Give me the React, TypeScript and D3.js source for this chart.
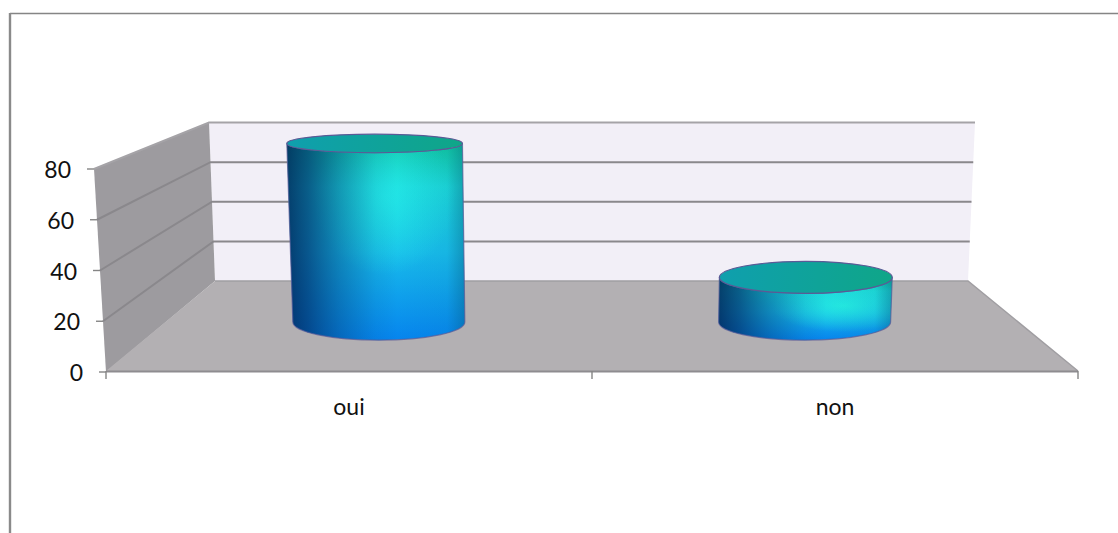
import React from "react";
import * as d3 from "d3";

const categories = ["oui", "non"];
const values = [80, 20];
const yTicks = [0, 20, 40, 60, 80];

const W = 1118;
const H = 533;
const FONT = "Lato, 'Open Sans', sans-serif";

// Corners of the 3D box: each scale maps a value to a height on one face edge.
const yFront = d3.scaleLinear().domain([0, 80]).range([372, 169]);
const yBack = d3.scaleLinear().domain([0, 80]).range([281, 122.5]);
const xFrontLeft = d3.scaleLinear().domain([0, 80]).range([106, 94]);
const xBackLeft = d3.scaleLinear().domain([0, 80]).range([215, 209]);
const xFrontRight = d3.scaleLinear().domain([0, 80]).range([1078, 1090]);
const xBackRight = d3.scaleLinear().domain([0, 80]).range([968, 975]);
const band = d3.scaleBand<string>().domain(categories).range([0, 1]);

const lerp = (a: number, b: number, t: number) => a + (b - a) * t;
const DEPTH = 0.55; // position of the cylinder axis between front and back
const DEPTH_HALF = 0.2; // cylinder radius, as a share of the depth
const WIDTH_HALF = 0.101; // cylinder radius, as a share of the floor width

function project(f: number, v: number, t: number) {
  const left = lerp(xFrontLeft(v), xBackLeft(v), t);
  const right = lerp(xFrontRight(v), xBackRight(v), t);
  return { x: lerp(left, right, f), y: lerp(yFront(v), yBack(v), t) };
}

function disc(f: number, v: number) {
  const c = project(f, v, DEPTH);
  const rx =
    (lerp(xFrontRight(v), xBackRight(v), DEPTH) - lerp(xFrontLeft(v), xBackLeft(v), DEPTH)) *
    WIDTH_HALF;
  const ry = (yFront(v) - yBack(v)) * DEPTH_HALF;
  return { cx: c.x, cy: c.y, rx, ry };
}

function Stops({ stops }: { stops: [number, string, number][] }) {
  return (
    <>
      {stops.map(([o, c, a], i) => (
        <stop key={i} offset={`${o}%`} stopColor={c} stopOpacity={a} />
      ))}
    </>
  );
}

function Cylinder({ name, value, index }: { name: string; value: number; index: number }) {
  const f = band(name)! + band.bandwidth() / 2;
  const top = disc(f, value);
  const base = disc(f, 0);
  const side =
    `M${top.cx - top.rx},${top.cy}` +
    `L${base.cx - base.rx},${base.cy}` +
    `A${base.rx},${base.ry} 0 0 0 ${base.cx + base.rx},${base.cy}` +
    `L${top.cx + top.rx},${top.cy}` +
    `A${top.rx},${top.ry} 0 0 1 ${top.cx - top.rx},${top.cy}Z`;
  const edge = "#5b5a96";
  return (
    <g>
      <path d={side} fill="url(#sideVertical)" />
      <path d={side} fill={`url(#sideGlow${index})`} />
      <path d={side} fill="url(#sideShade)" />
      <path d={side} fill="none" stroke={edge} strokeWidth={1.2} strokeOpacity={0.7} />
      <ellipse {...top} fill="url(#capFill)" stroke={edge} strokeWidth={1.2} />
    </g>
  );
}

export default function App() {
  const gridValues = yTicks.slice(1);
  const xTicks = [0, 0.5, 1];
  return (
    <svg
      width={W}
      height={H}
      viewBox={`0 0 ${W} ${H}`}
      style={{ position: "absolute", left: 0, top: 0, background: "#fff" }}
    >
      <defs>
        <linearGradient id="sideVertical" x1="0" y1="0" x2="0" y2="1">
          <Stops
            stops={[
              [0, "#10c4a0", 1],
              [22, "#1bd4d8", 1],
              [55, "#18bcea", 1],
              [100, "#0684ee", 1],
            ]}
          />
        </linearGradient>
        <radialGradient id="sideGlow0" cx="0.55" cy="0.27" r="0.4">
          <Stops
            stops={[
              [0, "#26f0ec", 0.7],
              [100, "#26f0ec", 0],
            ]}
          />
        </radialGradient>
        <radialGradient id="sideGlow1" cx="0.72" cy="0.45" r="0.42">
          <Stops
            stops={[
              [0, "#26f0e0", 0.85],
              [100, "#26f0e0", 0],
            ]}
          />
        </radialGradient>
        <linearGradient id="sideShade" x1="0" y1="0" x2="1" y2="0">
          <Stops
            stops={[
              [0, "#002458", 0.85],
              [12, "#02306a", 0.72],
              [30, "#03407a", 0.42],
              [50, "#044a80", 0.1],
              [62, "#044a80", 0],
              [90, "#04506c", 0.06],
              [100, "#04506c", 0.38],
            ]}
          />
        </linearGradient>
        <linearGradient id="capFill" x1="0" y1="0" x2="1" y2="0">
          <Stops
            stops={[
              [0, "#0f9fae", 1],
              [100, "#0fa688", 1],
            ]}
          />
        </linearGradient>
      </defs>

      {/* Chart frame: only the top and left edges fall inside the canvas */}
      <line x1={10} y1={13.5} x2={W} y2={13.5} stroke="#858585" strokeWidth={1.5} />
      <line x1={10} y1={13} x2={10} y2={H} stroke="#8a8a8a" strokeWidth={2.4} />

      {/* Box faces */}
      <polygon
        points={`${xBackLeft(80)},${yBack(80)} ${xBackRight(80)},${yBack(80)} ${xBackRight(0)},${yBack(0)} ${xBackLeft(0)},${yBack(0)}`}
        fill="#f2eff7"
      />
      <polygon
        points={`${xFrontLeft(80)},${yFront(80)} ${xBackLeft(80)},${yBack(80)} ${xBackLeft(0)},${yBack(0)} ${xFrontLeft(0)},${yFront(0)}`}
        fill="#9d9b9f"
      />
      <polygon
        points={`${xBackLeft(0)},${yBack(0)} ${xBackRight(0)},${yBack(0)} ${xFrontRight(0)},${yFront(0) - 1} ${xFrontLeft(0)},${yFront(0) - 1}`}
        fill="#b3b0b3"
      />

      {/* Gridlines across the side wall and the back wall */}
      {gridValues.map((v) => (
        <polyline
          key={v}
          points={`${xFrontLeft(v)},${yFront(v)} ${xBackLeft(v)},${yBack(v)} ${xBackRight(v)},${yBack(v)}`}
          fill="none"
          stroke={v === 80 ? "#a5a3a7" : "#8a888c"}
          strokeWidth={2}
        />
      ))}
      <polyline
        points={`${xBackLeft(0)},${yBack(0)} ${xBackRight(0)},${yBack(0)} ${xFrontRight(0)},${yFront(0) - 1}`}
        fill="none"
        stroke="#a09ea2"
        strokeWidth={1.4}
      />
      <line
        x1={xFrontLeft(0)}
        y1={yFront(0) - 0.5}
        x2={xFrontRight(0)}
        y2={yFront(0) - 0.5}
        stroke="#8e8c90"
        strokeWidth={1.8}
      />

      {categories.map((c, i) => (
        <Cylinder key={c} name={c} value={values[i]} index={i} />
      ))}

      {/* Value axis */}
      {yTicks.map((v) => (
        <g key={v}>
          <line
            x1={xFrontLeft(v) - 7}
            x2={xFrontLeft(v)}
            y1={yFront(v)}
            y2={yFront(v)}
            stroke="#858585"
            strokeWidth={1.4}
          />
          <text
            x={xFrontLeft(v) - 23}
            y={yFront(v) + 9}
            textAnchor="end"
            fontFamily={FONT}
            fontSize={23}
            fill="#111"
          >
            {v}
          </text>
        </g>
      ))}

      {/* Category axis */}
      {xTicks.map((f) => {
        const x = lerp(xFrontLeft(0), xFrontRight(0), f);
        return (
          <line key={f} x1={x} x2={x} y1={371} y2={379} stroke="#858585" strokeWidth={1.4} />
        );
      })}
      {categories.map((c) => (
        <text
          key={c}
          x={lerp(xFrontLeft(0), xFrontRight(0), band(c)! + band.bandwidth() / 2)}
          y={415}
          textAnchor="middle"
          fontFamily={FONT}
          fontSize={23}
          fill="#111"
        >
          {c}
        </text>
      ))}
    </svg>
  );
}
